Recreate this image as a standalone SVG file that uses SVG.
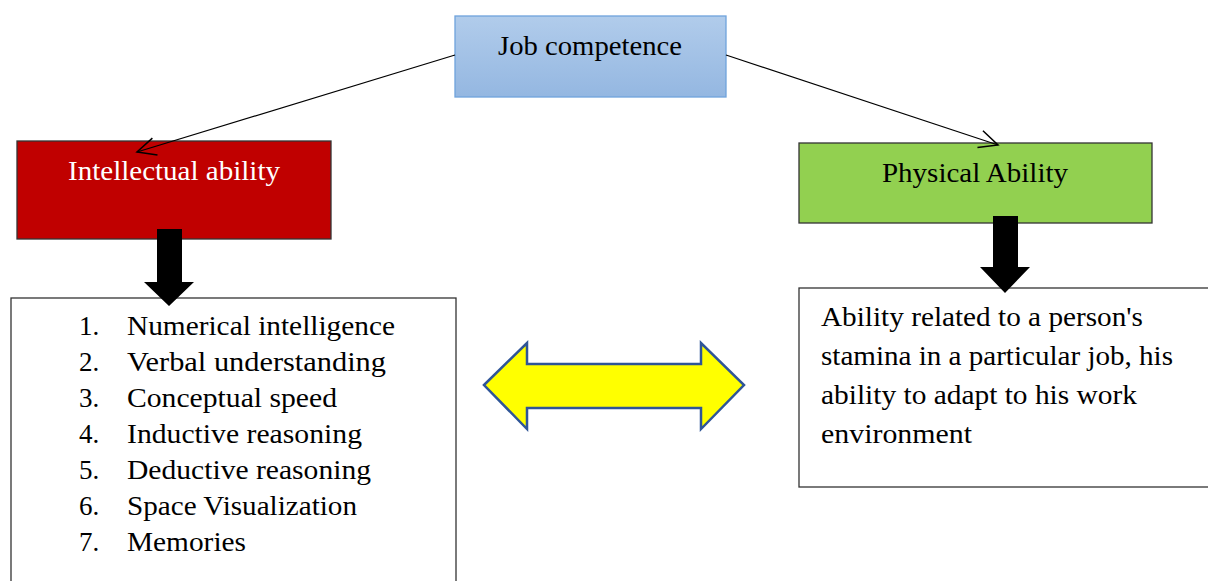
<svg xmlns="http://www.w3.org/2000/svg" width="1208" height="581" viewBox="0 0 1208 581">
<style>
text{font-family:"Liberation Serif","Times New Roman",serif;font-size:27px;fill:#000}
.box{stroke:#333;stroke-width:1.3}
.conn{stroke:#000;stroke-width:1.2;fill:none}
.blk{fill:#000}
</style>
<defs>
<linearGradient id="gb" x1="0" y1="0" x2="0" y2="1">
<stop offset="0" stop-color="#b1cceb"/>
<stop offset="1" stop-color="#94b7e1"/>
</linearGradient>
<marker id="oa" markerUnits="userSpaceOnUse" markerWidth="30" markerHeight="30" viewBox="-20 -10 24 20" refX="0" refY="0" orient="auto">
<path d="M-15,-7 L0,0 L-15,7" fill="none" stroke="#000" stroke-width="1.2"/>
</marker>
</defs>
<rect width="1208" height="581" fill="#fff"/>
<g id="job-competence">
<rect x="455" y="16" width="271" height="81" fill="url(#gb)" stroke="#6fa3dc" stroke-width="1.3"/>
<text x="498" y="55" textLength="184" lengthAdjust="spacingAndGlyphs">Job competence</text>
</g>
<g id="intellectual-ability">
<rect class="box" x="17" y="141" width="314" height="98" fill="#c00000"/>
<text x="68" y="180" textLength="212" lengthAdjust="spacingAndGlyphs" style="fill:#fff">Intellectual ability</text>
</g>
<g id="physical-ability">
<rect class="box" x="799" y="143" width="353" height="80" fill="#92d050"/>
<text x="882" y="182" textLength="186" lengthAdjust="spacingAndGlyphs">Physical Ability</text>
</g>
<g id="intellectual-list">
<rect class="box" x="11" y="298" width="445" height="300" fill="none" stroke-width="1.5"/>
<text x="79" y="335">1.</text><text x="127" y="335" textLength="268" lengthAdjust="spacingAndGlyphs">Numerical intelligence</text>
<text x="79" y="371">2.</text><text x="127" y="371" textLength="259" lengthAdjust="spacingAndGlyphs">Verbal understanding</text>
<text x="79" y="407">3.</text><text x="127" y="407" textLength="210" lengthAdjust="spacingAndGlyphs">Conceptual speed</text>
<text x="79" y="443">4.</text><text x="127" y="443" textLength="235" lengthAdjust="spacingAndGlyphs">Inductive reasoning</text>
<text x="79" y="479">5.</text><text x="127" y="479" textLength="244" lengthAdjust="spacingAndGlyphs">Deductive reasoning</text>
<text x="79" y="515">6.</text><text x="127" y="515" textLength="230" lengthAdjust="spacingAndGlyphs">Space Visualization</text>
<text x="79" y="551">7.</text><text x="127" y="551" textLength="119" lengthAdjust="spacingAndGlyphs">Memories</text>
</g>
<g id="physical-description">
<rect class="box" x="799" y="288" width="420" height="199" fill="none" stroke-width="1.5"/>
<text x="821" y="326" textLength="322" lengthAdjust="spacingAndGlyphs">Ability related to a person's</text>
<text x="821" y="365" textLength="352" lengthAdjust="spacingAndGlyphs">stamina in a particular job, his</text>
<text x="821" y="404" textLength="316" lengthAdjust="spacingAndGlyphs">ability to adapt to his work</text>
<text x="821" y="443" textLength="151" lengthAdjust="spacingAndGlyphs">environment</text>
</g>
<g id="connectors">
<line class="conn" x1="455" y1="55" x2="137" y2="152" marker-end="url(#oa)"/>
<line class="conn" x1="726" y1="55" x2="998" y2="145" marker-end="url(#oa)"/>
<polygon class="blk" points="157,229 182,229 182,282 194,282 169,306 144,282 157,282"/>
<polygon class="blk" points="993,216 1018,216 1018,267 1030,267 1005,293 980,267 993,267"/>
<polygon points="484,385 527,343 527,364 701,364 701,343 744,385 701,429 701,408 527,408 527,429" fill="#ffff00" stroke="#2f5597" stroke-width="2.5" stroke-linejoin="miter"/>
</g>
</svg>
